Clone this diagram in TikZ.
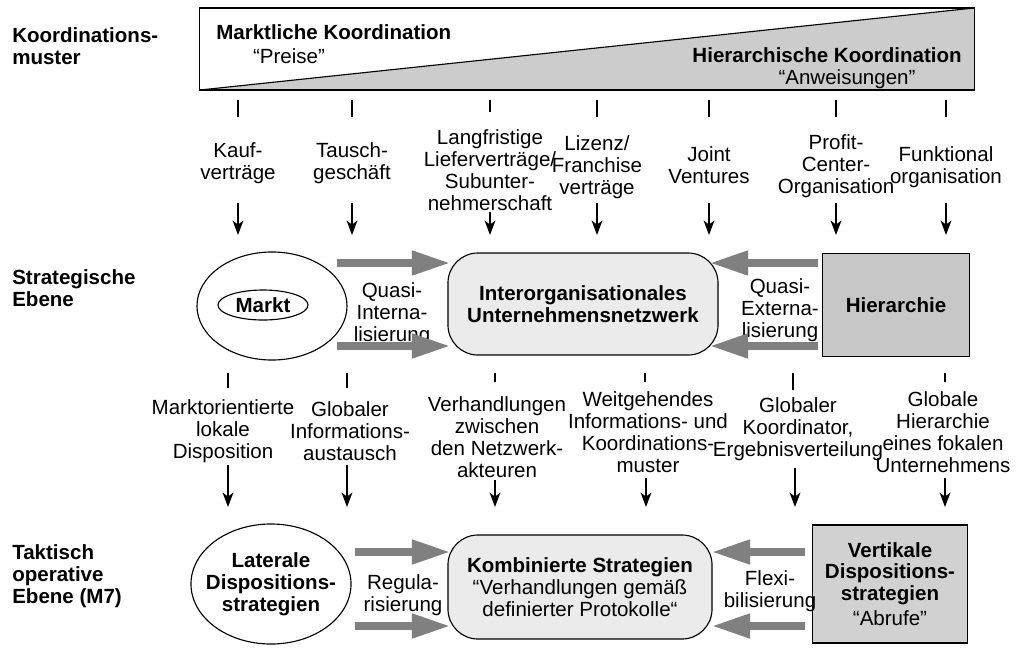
\documentclass[tikz,border=0pt]{standalone}
\usepackage{fontspec}
\setmainfont{Liberation Sans}
\usetikzlibrary{shapes,arrows.meta,positioning}
\newcommand\fsz{\fontsize{14.6}{15.6}\selectfont}
\tikzset{
  lvl/.style={anchor=west, align=left, inner sep=0pt, font=\fsz\bfseries},
  lbl/.style={align=center, inner sep=0pt},
  strich/.style={line width=1pt},
  conn/.style={-{Stealth[length=0.36cm, width=0.27cm, inset=0.1cm]}, line width=1pt},
  fat/.style={-{Triangle[length=0.95cm, width=0.58cm]}, line width=5pt, draw=black!50},
  oval/.style={ellipse, draw, line width=0.8pt, inner sep=0pt, align=center},
  netz/.style={rectangle, rounded corners=0.75cm, draw, line width=0.8pt, fill=black!8, align=center, inner sep=0pt},
  hbox/.style={rectangle, draw, line width=0.8pt, fill=black!22, align=center, inner sep=0pt}
}

\begin{document}
\begin{tikzpicture}[x=0.025cm, y=-0.025cm, font=\fsz]
  \useasboundingbox (0,0) rectangle (1021,647);

  % Koordinationsmuster
  \node[lvl] (kmuster) at (12,46) {Koordinations-\\muster};
  \node[draw, line width=0.8pt, minimum width=19.35cm, minimum height=2.05cm,
        path picture={\fill[black!20] (path picture bounding box.south west)
          -- (path picture bounding box.north east)
          -- (path picture bounding box.south east) -- cycle;
          \draw[line width=0.8pt] (path picture bounding box.south west)
          -- (path picture bounding box.north east);}] (bar) at (587,49) {};
  \node[lbl, anchor=west, font=\fsz\bfseries] (mkoord) at (216,32) {Marktliche Koordination};
  \node[lbl] (preise) at (289,56) {“Preise”};
  \node[lbl, anchor=east, font=\fsz\bfseries] (hkoord) at (962,55) {Hierarchische Koordination};
  \node[lbl] (anweis) at (847,79) {“Anweisungen”};

  % Striche unter dem Balken
  \coordinate (s1a) at (238,100); \coordinate (s1b) at (238,117);
  \coordinate (s2a) at (352,100); \coordinate (s2b) at (352,117);
  \coordinate (s3a) at (490,100); \coordinate (s3b) at (490,112);
  \coordinate (s4a) at (597,100); \coordinate (s4b) at (597,117);
  \coordinate (s5a) at (709,100); \coordinate (s5b) at (709,117);
  \coordinate (s6a) at (836,100); \coordinate (s6b) at (836,117);
  \coordinate (s7a) at (946,100); \coordinate (s7b) at (946,117);
  \draw[strich] (s1a) -- (s1b) (s2a) -- (s2b) (s3a) -- (s3b) (s4a) -- (s4b)
                (s5a) -- (s5b) (s6a) -- (s6b) (s7a) -- (s7b);

  \node[lbl] (kauf) at (238,163) {Kauf-\\verträge};
  \node[lbl] (tausch) at (352,163) {Tausch-\\geschäft};
  \node[lbl] (liefer) at (490,170) {Langfristige\\Lieferverträge/\\Subunter-\\nehmerschaft};
  \node[lbl] (lizenz) at (597,167) {Lizenz/\\Franchise\\verträge};
  \node[lbl] (joint) at (709,165) {Joint\\Ventures};
  \node[lbl] (profit) at (836,166) {Profit-\\Center-\\Organisation};
  \node[lbl] (funkt) at (946,167) {Funktional\\organisation};

  \coordinate (p1a) at (238,203); \coordinate (p1b) at (238,235);
  \coordinate (p2a) at (352,203); \coordinate (p2b) at (352,235);
  \coordinate (p3a) at (490,212); \coordinate (p3b) at (490,235);
  \coordinate (p4a) at (597,203); \coordinate (p4b) at (597,235);
  \coordinate (p5a) at (709,203); \coordinate (p5b) at (709,235);
  \coordinate (p6a) at (836,203); \coordinate (p6b) at (836,235);
  \coordinate (p7a) at (946,203); \coordinate (p7b) at (946,235);
  \path (p1a) edge[conn] (p1b) (p2a) edge[conn] (p2b) (p3a) edge[conn] (p3b)
        (p4a) edge[conn] (p4b) (p5a) edge[conn] (p5b) (p6a) edge[conn] (p6b)
        (p7a) edge[conn] (p7b);

  % Strategische Ebene
  \node[lvl] (strat) at (12,288) {Strategische\\Ebene};
  \node[oval, minimum width=3.75cm, minimum height=2.7cm] (markt) at (272,306) {};
  \node[oval, minimum width=2.25cm, minimum height=0.75cm, font=\fsz\bfseries] (marktin) at (263,305) {Markt};
  \node[netz, minimum width=6.75cm, minimum height=2.55cm, font=\fsz\bfseries] (inet) at (583,304)
        {Interorganisationales\\Unternehmensnetzwerk};
  \node[hbox, minimum width=3.675cm, minimum height=2.575cm, font=\fsz\bfseries] (hier) at (896,305) {Hierarchie};
  \node[lbl] (qint) at (392,314) {Quasi-\\Interna-\\lisierung};
  \node[lbl] (qext) at (780,310) {Quasi-\\Externa-\\lisierung};

  \coordinate (g1a) at (337,263); \coordinate (g1b) at (450,263);
  \coordinate (g2a) at (337,346); \coordinate (g2b) at (450,346);
  \coordinate (g3a) at (818,263); \coordinate (g3b) at (710,263);
  \coordinate (g4a) at (818,346); \coordinate (g4b) at (710,346);
  \path (g1a) edge[fat] (g1b) (g2a) edge[fat] (g2b)
        (g3a) edge[fat] (g3b) (g4a) edge[fat] (g4b);

  \coordinate (m1a) at (228,373); \coordinate (m1b) at (228,388);
  \coordinate (m2a) at (347,373); \coordinate (m2b) at (347,388);
  \coordinate (m3a) at (495,373); \coordinate (m3b) at (495,382);
  \coordinate (m4a) at (645,373); \coordinate (m4b) at (645,382);
  \coordinate (m5a) at (793,373); \coordinate (m5b) at (793,390);
  \coordinate (m6a) at (945,373); \coordinate (m6b) at (945,382);
  \draw[strich] (m1a) -- (m1b) (m2a) -- (m2b) (m3a) -- (m3b)
                (m4a) -- (m4b) (m5a) -- (m5b) (m6a) -- (m6b);

  \node[lbl] (mlok) at (223,431) {Marktorientierte\\lokale\\Disposition};
  \node[lbl] (ginfo) at (350,431) {Globaler\\Informations-\\austausch};
  \node[lbl] (verh) at (497,437) {Verhandlungen\\zwischen\\den Netzwerk-\\akteuren};
  \node[lbl] (weit) at (648,432) {Weitgehendes\\Informations- und\\Koordinations-\\muster};
  \node[lbl] (gkoord) at (798,429) {Globaler\\Koordinator,\\Ergebnisverteilung};
  \node[lbl] (ghier) at (943,432) {Globale\\Hierarchie\\eines fokalen\\Unternehmens};

  \coordinate (d1a) at (228,465); \coordinate (d1b) at (228,507);
  \coordinate (d2a) at (347,465); \coordinate (d2b) at (347,507);
  \coordinate (d3a) at (495,480); \coordinate (d3b) at (495,507);
  \coordinate (d4a) at (646,478); \coordinate (d4b) at (646,507);
  \coordinate (d5a) at (795,468); \coordinate (d5b) at (795,507);
  \coordinate (d6a) at (945,478); \coordinate (d6b) at (945,507);
  \path (d1a) edge[conn] (d1b) (d2a) edge[conn] (d2b) (d3a) edge[conn] (d3b)
        (d4a) edge[conn] (d4b) (d5a) edge[conn] (d5b) (d6a) edge[conn] (d6b);

  % Taktisch operative Ebene
  \node[lvl] (takt) at (12,576) {Taktisch\\operative\\Ebene (M7)};
  \node[oval, minimum width=4cm, minimum height=3cm] (lat) at (271,584) {};
  \node[lbl, font=\fsz\bfseries] (lattext) at (lat) {Laterale\\Dispositions-\\strategien};
  \node[netz, minimum width=6.6cm, minimum height=2.6cm] (komb) at (580,587)
        {\textbf{Kombinierte Strategien}\\“Verhandlungen gemäß\\definierter Protokolle“};
  \node[hbox, line width=1pt, fill=black!18, minimum width=3.875cm, minimum height=2.95cm] (vert) at (890,584)
        {\textbf{Vertikale}\\\textbf{Dispositions-}\\\textbf{strategien}\\[2pt]“Abrufe”};
  \node[lbl] (regul) at (403,595) {Regula-\\risierung};
  \node[lbl] (flexi) at (770,591) {Flexi-\\bilisierung};

  \coordinate (h1a) at (355,552); \coordinate (h1b) at (450,552);
  \coordinate (h2a) at (355,626); \coordinate (h2b) at (450,626);
  \coordinate (h3a) at (805,552); \coordinate (h3b) at (712,552);
  \coordinate (h4a) at (805,626); \coordinate (h4b) at (712,626);
  \path (h1a) edge[fat] (h1b) (h2a) edge[fat] (h2b)
        (h3a) edge[fat] (h3b) (h4a) edge[fat] (h4b);
\end{tikzpicture}
\end{document}
